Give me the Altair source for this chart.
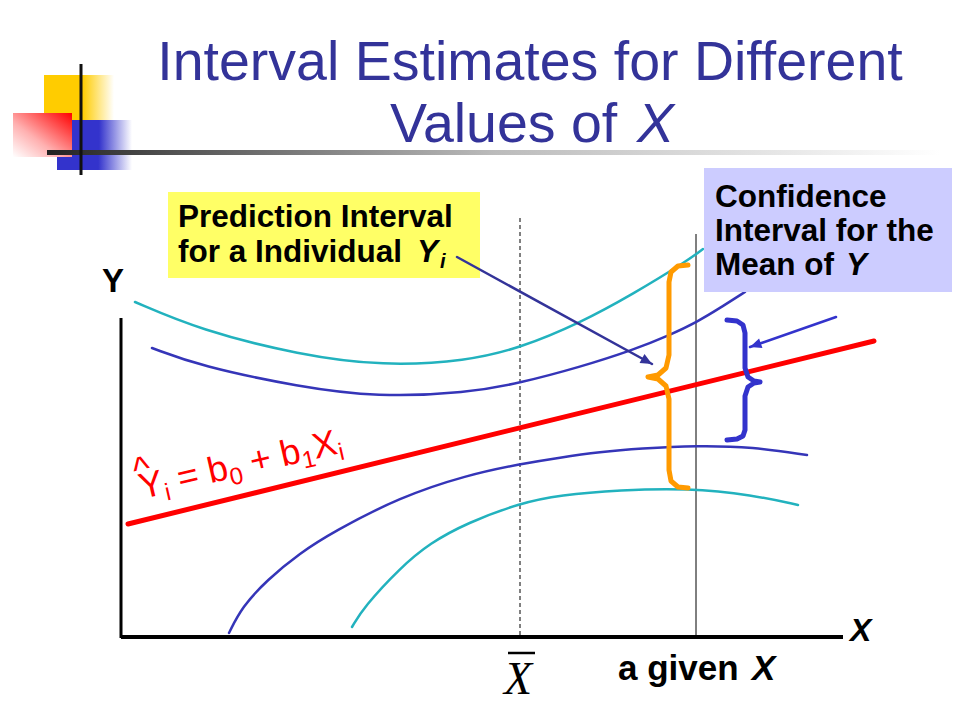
import math
import altair as alt
import pandas as pd

# ---------------- values (slide pixel space) ----------------
reg_x = [128, 874]
reg_y = [524, 341]

pi_up_x = [135, 200, 300, 383, 467, 520, 580, 633, 687, 703]
pi_up_y = [302, 330, 355, 366, 361, 348, 323, 294, 261, 249]
ci_up_x = [152, 200, 300, 377, 467, 520, 580, 633, 670, 697, 720, 745]
ci_up_y = [348, 366, 387, 397, 393, 383, 367, 350, 335, 322, 308, 292]
ci_lo_x = [229, 242, 267, 300, 333, 400, 467, 520, 560, 600, 640, 697, 753, 807]
ci_lo_y = [633, 607, 580, 553, 532, 497, 475, 464, 457.5, 452, 448.5, 445.5, 447, 455]
pi_lo_x = [352, 364, 400, 430, 467, 520, 560, 620, 687, 753, 798]
pi_lo_y = [627, 607, 568, 543, 523, 503, 495, 490, 488, 495, 505]

orange_x = [688, 678, 671, 669, 669, 666, 658, 648, 658, 666, 669, 669, 671, 678, 688]
orange_y = [265, 266, 272, 282, 355, 368, 375, 377, 379, 386, 399, 470, 481, 487, 488]
brace_x = [727, 737, 743, 745, 745, 748, 754, 760, 754, 748, 745, 745, 743, 737, 727]
brace_y = [320, 321, 325, 333, 368, 377, 381, 382, 383, 387, 396, 430, 436, 439, 440]

arrow1 = [(457, 257), (652, 364)]
arrow2 = [(836, 317), (750, 347)]

title1 = "Interval Estimates for Different"
title2 = "Values of"
pred_lines = ["Prediction Interval", "for a Individual"]
conf_lines = ["Confidence", "Interval for the", "Mean of"]

# ---------------- styling ----------------
SANS = "Liberation Sans"
SERIF = "Liberation Serif"
NAVY = "#333399"
CYAN = "#22B2BE"
BLUE = "#3535B8"
RED = "#FF0000"
ORANGE = "#FF9A00"
BRACE_BLUE = "#3333CC"

W, H = 944, 696
xs = alt.Scale(domain=[8, 8 + W], nice=False, zero=False)
ys = alt.Scale(domain=[8, 8 + H], reverse=True, nice=False, zero=False)
X = alt.X("x:Q", scale=xs, axis=None)
Y = alt.Y("y:Q", scale=ys, axis=None)


def path(xv, yv, color, width, interp="linear"):
    df = pd.DataFrame({"x": xv, "y": yv, "i": list(range(len(xv)))})
    return alt.Chart(df).mark_line(
        color=color, strokeWidth=width, interpolate=interp,
        strokeCap="round", strokeJoin="round"
    ).encode(x=X, y=Y, order="i:Q")


def vrule(x, y1, y2, width=1, dash=None, color="black"):
    kw = {"strokeDash": dash} if dash else {}
    df = pd.DataFrame({"x": [x], "y": [y1], "y2": [y2]})
    return alt.Chart(df).mark_rule(color=color, strokeWidth=width, **kw).encode(
        x=X, y=Y, y2="y2:Q")


def hrule(x1, x2, y, width=1, color="black"):
    df = pd.DataFrame({"x": [x1], "x2": [x2], "y": [y]})
    return alt.Chart(df).mark_rule(color=color, strokeWidth=width).encode(
        x=X, x2="x2:Q", y=Y)


def rect(x1, x2, y1, y2, fill):
    df = pd.DataFrame({"x": [x1], "x2": [x2], "y": [y1], "y2": [y2]})
    return alt.Chart(df).mark_rect(fill=fill, stroke=None).encode(
        x=X, x2="x2:Q", y=Y, y2="y2:Q")


def label(x, y, text, size, color="black", weight="normal", style="normal",
          font=SANS, align="left", angle=0, dx=0, dy=0):
    df = pd.DataFrame({"x": [x], "y": [y], "t": [text]})
    return alt.Chart(df).mark_text(
        font=font, fontSize=size, fontWeight=weight, fontStyle=style,
        color=color, align=align, baseline="alphabetic", angle=angle, dx=dx, dy=dy
    ).encode(x=X, y=Y, text="t:N")


def arrow(seg, color, width=2.5):
    (x0, y0), (x1, y1) = seg
    ang = math.degrees(math.atan2(y1 - y0, x1 - x0)) % 360
    ln = path([x0, x1], [y0, y1], color, width)
    df = pd.DataFrame({"x": [x1], "y": [y1]})
    head = alt.Chart(df).mark_point(
        shape="M-1,-0.45L0,0L-1,0.45Z", filled=True, color=color, opacity=1,
        size=520, angle=ang
    ).encode(x=X, y=Y)
    return ln + head


def hgrad(stops):
    return alt.Gradient(gradient="linear", x1=0, x2=1, y1=0, y2=0,
                        stops=[alt.GradientStop(color=c, offset=o) for o, c in stops])


layers = []

# --- decorative corner ---
layers.append(rect(44, 114, 75, 121, hgrad([(0, "#FFCC00"), (0.55, "#FFCC00"), (1, "#FFFFFF")])))
layers.append(rect(57, 132, 150, 170, hgrad([(0, "#3333CC"), (0.55, "#3333CC"), (1, "#FFFFFF")])))
layers.append(rect(72, 132, 120, 151, hgrad([(0, "#3333CC"), (0.45, "#3333CC"), (1, "#FFFFFF")])))
layers.append(rect(13, 72, 113, 157, alt.Gradient(
    gradient="linear", x1=1, y1=0, x2=0, y2=1,
    stops=[alt.GradientStop(color="#FF0000", offset=0),
           alt.GradientStop(color="#FFB0B0", offset=0.6),
           alt.GradientStop(color="#FFFFFF", offset=1)])))
layers.append(rect(47, 940, 150, 155, hgrad([(0, "#222222"), (0.15, "#555555"),
                                             (0.5, "#BBBBBB"), (1, "#FFFFFF")])))
layers.append(vrule(81, 64, 175, width=3, color="#111111"))

# --- title ---
layers.append(label(530, 80, title1, 55.5, color=NAVY, align="center"))
layers.append(label(390, 142, title2, 55.5, color=NAVY))
layers.append(label(637, 142, "X", 55.5, color=NAVY, style="italic"))

# --- axes ---
layers.append(vrule(121, 318, 638, width=3))
layers.append(hrule(121, 843, 637, width=4))
layers.append(label(113, 292, "Y", 33, weight="bold", align="center"))
layers.append(label(850, 641, "X", 32, weight="bold", style="italic"))

# --- reference verticals ---
layers.append(vrule(520, 218, 637, width=1, dash=[4, 3]))
layers.append(vrule(696, 234, 637, width=1))

# --- bands ---
layers.append(path(pi_up_x, pi_up_y, CYAN, 2.5, "basis"))
layers.append(path(pi_lo_x, pi_lo_y, CYAN, 2.5, "basis"))
layers.append(path(ci_up_x, ci_up_y, BLUE, 2.5, "basis"))
layers.append(path(ci_lo_x, ci_lo_y, BLUE, 2.5, "basis"))

# --- regression line ---
layers.append(path(reg_x, reg_y, RED, 5))

# --- braces ---
layers.append(path(orange_x, orange_y, ORANGE, 5))
layers.append(path(brace_x, brace_y, BRACE_BLUE, 5))

# --- boxes ---
layers.append(rect(168, 480, 192, 278, "#FFFF66"))
layers.append(rect(704, 952, 168, 292, "#CCCCFF"))

for k, t in enumerate(pred_lines):
    layers.append(label(178, 227 + 35 * k, t, 31.5, weight="bold"))
layers.append(label(417, 262, "Y", 31.5, weight="bold", style="italic"))
layers.append(label(440, 268, "i", 20, weight="bold", style="italic"))

for k, t in enumerate(conf_lines):
    layers.append(label(715, 207 + 34 * k, t, 31.5, weight="bold"))
layers.append(label(846, 275, "Y", 31.5, weight="bold", style="italic"))

# --- arrows ---
layers.append(arrow(arrow1, NAVY))
layers.append(arrow(arrow2, BRACE_BLUE))

# --- equation, rotated along the line ---
F, S = 36, 24
ANG = 347
ex, ey = 142, 499
w = {"Y": .667, "i": .222, "=": .584, "+": .584, "b": .556, "0": .556, "1": .556,
     "X": .667, " ": .278}
pieces = []
cur = 0.0
pieces.append(("^", F, cur - 2, -17))
pieces.append(("Y", F, cur, 0)); cur += w["Y"] * F
pieces.append(("i", S, cur, 7)); cur += w["i"] * S + w[" "] * F
pieces.append(("=", F, cur, 0)); cur += w["="] * F + w[" "] * F
pieces.append(("b", F, cur, 0)); cur += w["b"] * F
pieces.append(("0", S, cur, 7)); cur += w["0"] * S + w[" "] * F
pieces.append(("+", F, cur, 0)); cur += w["+"] * F + w[" "] * F
pieces.append(("b", F, cur, 0)); cur += w["b"] * F
pieces.append(("1", S, cur, 7)); cur += w["1"] * S
pieces.append(("X", F, cur, 0)); cur += w["X"] * F
pieces.append(("i", S, cur, 7))
for t, sz, ddx, ddy in pieces:
    layers.append(label(ex, ey, t, sz, color=RED, angle=ANG, dx=ddx, dy=ddy))

# --- x labels ---
layers.append(label(518, 694, "X", 46, font=SERIF, style="italic", align="center"))
layers.append(hrule(508, 535, 653, width=2.5))
layers.append(label(618, 680, "a given", 35, weight="bold"))
layers.append(label(752, 680, "X", 35, weight="bold", style="italic"))

chart = alt.layer(*layers).properties(
    width=W, height=H, autosize=alt.AutoSizeParams(type="none"), padding=0,
    background="white"
).configure_view(stroke=None)

chart.save("out.html", embed_options={"renderer": "svg", "actions": False})
